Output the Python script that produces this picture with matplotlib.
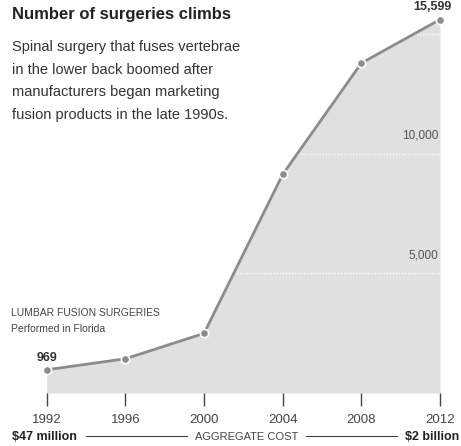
import matplotlib
matplotlib.use("Agg")
import matplotlib.pyplot as plt

years = [1992, 1996, 2000, 2004, 2008, 2012]
surgeries = [969, 1430, 2490, 9130, 13780, 15599]
grid_values = [5000, 10000, 15000]
grid_labels = ["5,000", "10,000", ""]
tick_labels = ["1992", "1996", "2000", "2004", "2008", "2012"]

W, H = 461, 446
fig = plt.figure(figsize=(W / 100, H / 100), dpi=100)
plt.rcParams['font.family'] = ['Liberation Sans', 'DejaVu Sans']

def fx(px):
    return px / W

def fy(py):
    return 1 - py / H

# axes: x 1992 at px 46.7, 2012 at px 440 ; y=0 at px 393, 41.77 units/px
left_px, right_px = 46.7, 440
bottom_px = 393
units_per_px = 41.77
ax = fig.add_axes([fx(left_px), fy(bottom_px), (right_px - left_px) / W, bottom_px / H])
ax.set_xlim(1992, 2012)
ax.set_ylim(0, bottom_px * units_per_px)

fill_col = "#e0e0e0"
line_col = "#8c8c8c"
ax.fill_between(years, surgeries, 0, color=fill_col, lw=0, zorder=1)
for g, lab in zip(grid_values, grid_labels):
    ax.axhline(g, color="white", lw=1.0, ls=(0, (1, 1.2)), zorder=2)
    if lab:
        ax.text(2011.9, g + 500, lab, ha="right", va="bottom", fontsize=8.5, color="#555555", zorder=3)
ax.plot(years, surgeries, color=line_col, lw=2, zorder=4, clip_on=False)
ax.plot(years, surgeries, "o", color=line_col, ms=6, mec="white", mew=1.2, zorder=5, clip_on=False)

for s in ax.spines.values():
    s.set_visible(False)
ax.set_yticks([])
ax.set_xticks(years)
ax.set_xticklabels(tick_labels, fontsize=9.5, color="#444444")
ax.tick_params(axis="x", length=9, width=1, color="#444444", pad=6)
ax.patch.set_alpha(0)

# titles
fig.text(fx(12), fy(15), "Number of surgeries climbs", fontsize=12, fontweight="bold",
         color="#222222", va="center", ha="left")
sub = ["Spinal surgery that fuses vertebrae", "in the lower back boomed after",
       "manufacturers began marketing", "fusion products in the late 1990s."]
for i, line in enumerate(sub):
    fig.text(fx(12), fy(47 + 22.7 * i), line, fontsize=10.5, color="#333333", va="center", ha="left")

fig.text(fx(11), fy(313), "LUMBAR FUSION SURGERIES", fontsize=7.5, color="#444444", va="center", ha="left")
fig.text(fx(11), fy(329), "Performed in Florida", fontsize=7.5, color="#444444", va="center", ha="left")

fig.text(fx(47), fy(358), "969", fontsize=9, fontweight="bold", color="#333333", va="center", ha="center")
fig.text(fx(432), fy(7), "15,599", fontsize=9, fontweight="bold", color="#333333", va="center", ha="center")

# bottom aggregate cost line
fig.text(fx(12), fy(437), "$47 million", fontsize=9, fontweight="bold", color="#222222", va="center", ha="left")
fig.text(fx(459), fy(437), "$2 billion", fontsize=9, fontweight="bold", color="#222222", va="center", ha="right")
fig.text(fx(247), fy(437), "AGGREGATE COST", fontsize=8, color="#444444", va="center", ha="center")
fig.add_artist(plt.Line2D([fx(86), fx(187)], [fy(436), fy(436)], color="#444444", lw=0.8))
fig.add_artist(plt.Line2D([fx(306), fx(397)], [fy(436), fy(436)], color="#444444", lw=0.8))

fig.savefig("out.png", dpi=100)
